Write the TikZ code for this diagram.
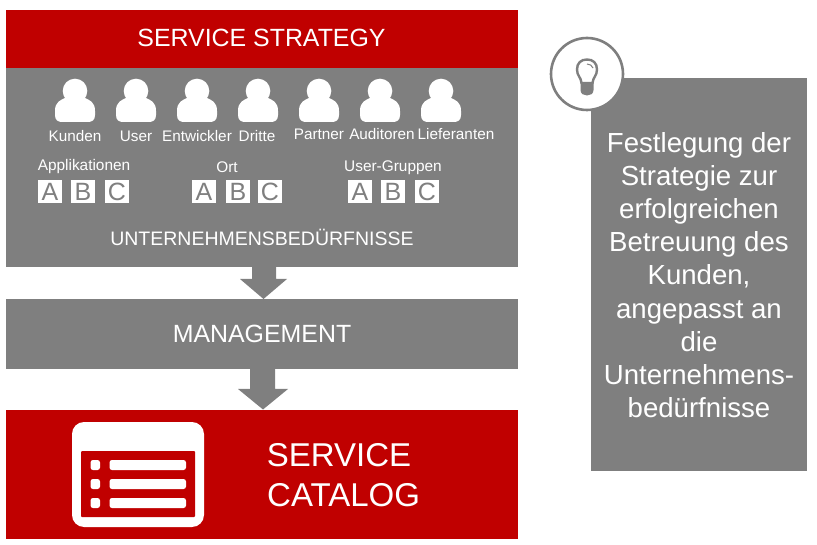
\documentclass[tikz,border=0pt]{standalone}
\usepackage{fontspec}
\setmainfont{Liberation Sans}
\definecolor{ggray}{HTML}{7F7F7F}
\definecolor{rred}{HTML}{C00000}
\newcommand{\fs}[1]{\fontsize{#1}{#1}\selectfont}
\tikzset{
  x=1pt,y=-1pt,
  lbl/.style={text=white,inner sep=0,anchor=base},
  small/.style={lbl,font=\fs{15.3}},
  big/.style={lbl,font=\fs{24.9}},
  letter/.style={fill=white,text=ggray,inner sep=0,minimum width=24pt,minimum height=23pt,font=\fs{25}},
  person/.pic={
    \fill[white] (0,0) circle[radius=12.3];
    \fill[white] (-10,7) .. controls (-14,9) and (-20,10.5) .. (-20,20)
      -- (-20,24) .. controls (-20,29) and (-17,31) .. (-13,31)
      -- (13,31) .. controls (17,31) and (20,29) .. (20,24)
      -- (20,20) .. controls (20,10.5) and (14,9) .. (10,7) -- cycle;
  }
}
\begin{document}
\begin{tikzpicture}
\useasboundingbox (0,0) rectangle (817,545);
% bands
\fill[rred] (6,10) rectangle (518,68);
\fill[ggray] (6,68) rectangle (518,267);
\fill[ggray] (6,299) rectangle (518,369);
\fill[rred] (6,410) rectangle (518,539);
\fill[ggray] (591,78) rectangle (807,471);
% arrows
\fill[ggray] (252,267) -- (276,267) -- (276,279) -- (287,279) -- (263.5,299) -- (240,279) -- (252,279) -- cycle;
\fill[ggray] (250,369) -- (275,369) -- (275,389) -- (288,389) -- (263,409.5) -- (238,389) -- (250,389) -- cycle;
% titles
\node[big] (t1) at (261.5,47) {SERVICE STRATEGY};
\node[big] (t2) at (262,343) {MANAGEMENT};
\node[lbl,font=\fs{33}] (t3a) at (339,466) {SERVICE};
\node[lbl,font=\fs{33},anchor=base west] (t3b) at (267,506) {CATALOG};
\node[lbl,font=\fs{19.5}] (t4) at (262,245.5) {UNTERNEHMENSBEDÜRFNISSE};
% persons
\foreach \px/\nm/\lx/\ly in {75/Kunden/75/142,136/User/136/142,197/Entwickler/197/142,258/Dritte/257/142,319/Partner/319/140,380/Auditoren/382/140,441/Lieferanten/456/140}{
  \pic at (\px,91) {person};
  \node[small] (p\nm) at (\lx,\ly) {\nm};
}
% groups
\node[lbl,font=\fs{15.4}] (g1) at (84,171) {Applikationen};
\node[lbl,font=\fs{15.4}] (g2) at (227,173) {Ort};
\node[lbl,font=\fs{15.4}] (g3) at (393,172) {User-Gruppen};
\foreach \i/\bx/\tx in {a/50/A,b/83/B,c/117/C,d/204/A,e/238/B,f/270/C,g/360/A,h/393/B,i/427/C}{
  \node[letter] (box\i) at (\bx,191.5) {\tx};
}
% catalog icon
\fill[white,rounded corners=12pt] (72,422) rectangle (204,527);
\fill[rred,rounded corners=1pt] (81,451) rectangle (195,517);
\foreach \yy in {460,479,498}{
  \fill[white,rounded corners=2.5pt] (90.5,\yy) rectangle (100,\yy+10);
  \fill[white,rounded corners=2.5pt] (109.5,\yy) rectangle (186,\yy+10);
}
% side
\node[text=white,inner sep=0,align=center,font=\fontsize{27.6}{33.2}\selectfont] (side) at (699,275)
  {Festlegung der\\Strategie zur\\erfolgreichen\\Betreuung des\\Kunden,\\angepasst an\\die\\Unternehmens-\\bedürfnisse};
% bulb
\draw[ggray,fill=white,line width=2.6pt] (587,74) circle[radius=36];
\draw[ggray,line width=2.4pt,fill=white] (581.5,83) .. controls (581,77) and (577,76) .. (577,69.5)
   .. controls (577,63) and (581,59.5) .. (587,59.5) .. controls (593,59.5) and (597,63) .. (597,69.5)
   .. controls (597,76) and (593,77) .. (592.5,83) -- cycle;
\fill[ggray] (580.5,83) -- (593.5,83) -- (593.5,90) .. controls (593.5,94) and (590,95.5) .. (587,95.5) .. controls (584,95.5) and (580.5,94) .. (580.5,90) -- cycle;
\draw[ggray,line width=1pt] (587,64) .. controls (590,64) and (592,65.5) .. (593,68);
\end{tikzpicture}
\end{document}
